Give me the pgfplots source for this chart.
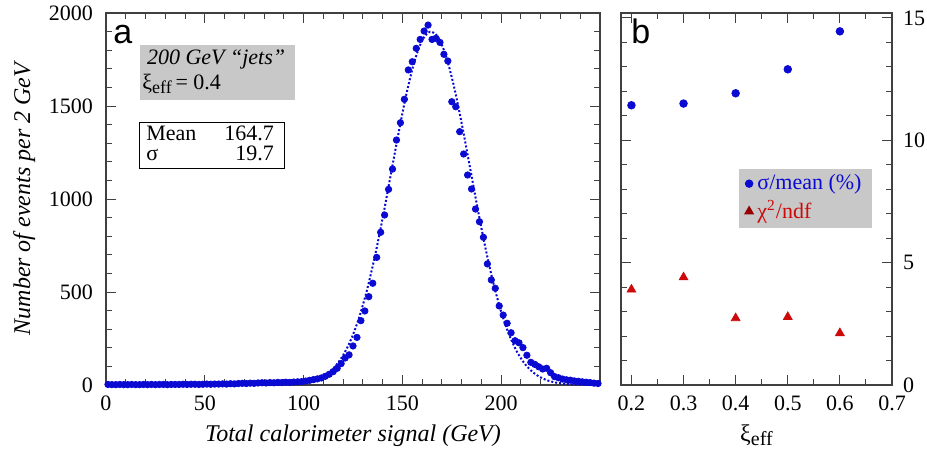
\documentclass[border=0pt]{standalone}
\usepackage{pgfplots}
\pgfplotsset{compat=1.18}
\usepackage{fontspec}
\setmainfont{Liberation Serif}
\newfontfamily\sansf{Liberation Sans}
\definecolor{dblue}{RGB}{10,10,210}
\definecolor{dred}{RGB}{205,10,10}
\definecolor{ddred}{RGB}{150,0,0}
\definecolor{boxgray}{RGB}{200,200,200}
\pgfplotstableread{
x y
1 3
3 2
5 2
7 3
9 2
11 2
13 3
15 2
17 2
19 3
21 2
23 3
25 2
27 3
29 3
31 2
33 3
35 3
37 3
39 4
41 3
43 4
45 4
47 3
49 4
51 5
53 4
55 5
57 5
59 6
61 5
63 7
65 6
67 8
69 9
71 8
73 10
75 9
77 11
79 12
81 11
83 13
85 12
87 14
89 13
91 15
93 14
95 16
97 17
99 18
101 21
103 25
105 29
107 33
109 38
111 47
113 58
115 72
117 90
119 115
121 145
123 162
125 210
127 256
129 346
131 398
133 475
135 547
137 686
139 821
141 914
143 1052
145 1161
147 1317
149 1410
151 1536
153 1694
155 1738
157 1810
159 1858
161 1903
163 1935
165 1858
167 1864
169 1842
171 1778
173 1742
175 1523
177 1496
179 1362
181 1242
183 1129
185 1054
187 946
189 878
191 794
193 651
195 565
197 520
199 425
201 376
203 332
205 281
207 238
209 227
211 201
213 160
215 122
217 111
219 98
221 86
223 90
225 66
227 45
229 39
231 32
233 28
235 26
237 22
239 20
241 17
243 15
245 13
247 10
249 8
}\histdata
\begin{document}
\begin{tikzpicture}
\useasboundingbox (0,0) rectangle (463.5pt,231pt);
\pgfplotsset{
  every axis/.append style={
    scale only axis,
    axis line style={black!75, line width=0.6pt},
    every tick/.style={black!75, line width=0.5pt},
    major tick length=5pt, minor tick length=3pt,
    tick align=inside,
    tick label style={font=\fontsize{11}{13}\selectfont},
    label style={font=\fontsize{12}{14}\selectfont},
    /pgf/number format/assume math mode=true,
    /pgf/number format/1000 sep={},
    scaled ticks=false,
  }
}
\begin{axis}[at={(53pt,38.5pt)}, anchor=south west, width=247pt, height=186pt,
  xmin=0, xmax=250, ymin=0, ymax=2000,
  xtick={0,50,100,150,200,250}, xticklabels={0,50,100,150,200,{}},
  ytick={0,500,1000,1500,2000},
  minor x tick num=4, minor y tick num=4,
  yticklabel style={xshift=-3pt},
  xticklabel style={yshift=-2pt},
  xlabel={\itshape Total calorimeter signal (GeV)},
  ylabel={\itshape Number of events per 2 GeV},
  clip=false,
]
\addplot[dblue, densely dotted, line width=1pt, smooth] coordinates {
(0,0) (80,0.3) (84,0.6) (88,1.3) (92,2.7) (96,5.4) (100,10.5) (104,19.6) (108,35.2)
(112,60.6) (116,100.4) (120,159.8) (124,244.5) (128,359.3) (132,507.5)
(136,688.4) (140,897.2) (144,1123.7) (148,1351.8) (152,1563) (156,1736)
(160,1852.5) (164,1899.4) (168,1871) (172,1771) (176,1610) (180,1407)
(184,1181) (188,952.7) (192,738.3) (196,549.7) (200,393.1) (204,270.2)
(208,178.4) (212,113.2) (216,69.0) (220,40.4) (224,22.7) (228,12.3)
(232,6.4) (236,3.2) (240,1.5) (250,0.2)};
\addplot[only marks, mark=*, mark size=1.6pt, color=dblue] table[x=x,y=y] {\histdata};
\end{axis}
\node[font=\sansf\fontsize{17}{17}\selectfont, anchor=base west, inner sep=0] at (56.5pt,209.5pt) {a};
\fill[boxgray] (70pt,208.5pt) rectangle (147.5pt,181pt);
\node[font=\fontsize{11}{12.5}\selectfont, anchor=north west, inner sep=0, align=left] at (71pt,206.5pt)
  {\hspace*{2.3pt}\itshape 200 GeV “jets”\\ξ\raisebox{-0.4ex}{\fontsize{9}{9}\selectfont eff}\,= 0.4};
\draw[black, line width=0.5pt] (69.5pt,170pt) rectangle (142pt,147pt);
\node[font=\fontsize{11}{7.5}\selectfont, anchor=north west, inner sep=0] at (73pt,168pt)
  {\begin{tabular}{@{}l@{\hspace{14pt}}r@{}}Mean & 164.7\\ σ & 19.7\end{tabular}};
\begin{axis}[at={(310.5pt,38.5pt)}, anchor=south west, width=135.5pt, height=186pt,
  xmin=0.18, xmax=0.7, ymin=0, ymax=15.2,
  xtick={0.2,0.3,0.4,0.5,0.6,0.7},
  xticklabel style={yshift=-2pt, /pgf/number format/fixed, /pgf/number format/precision=1, /pgf/number format/fixed zerofill},
  minor x tick num=1,
  ytick={0,5,10,15}, minor y tick num=4,
  yticklabel pos=right,
  yticklabel style={xshift=2pt},
  xlabel={ξ\raisebox{-0.4ex}{\fontsize{10}{10}\selectfont eff}},
  legend style={at={(0.926,0.583)}, anchor=north east, fill=boxgray, draw=none,
    font=\fontsize{11}{13}\selectfont, inner xsep=3pt, inner ysep=1pt},
  legend cell align=left,
  clip=false,
]
\addplot[only marks, mark=*, mark size=1.9pt, dblue] coordinates {(0.2,11.43) (0.3,11.5) (0.4,11.92) (0.5,12.9) (0.6,14.45)};
\addlegendentry{\textcolor{dblue}{σ/mean (\%)}}
\addplot[only marks, mark=triangle*, mark size=2.5pt, dred,
  legend image code/.code={\draw[mark repeat=2,mark phase=2, ddred] plot coordinates {(0cm,0cm) (0.3cm,0cm) (0.6cm,0cm)};}] coordinates {(0.2,3.9) (0.3,4.4) (0.4,2.73) (0.5,2.78) (0.6,2.12)};
\addlegendentry{\textcolor{dred}{χ\textsuperscript{2}/ndf}}
\end{axis}
\node[font=\sansf\fontsize{17}{17}\selectfont, anchor=base west, inner sep=0] at (315.5pt,209.5pt) {b};
\end{tikzpicture}
\end{document}
